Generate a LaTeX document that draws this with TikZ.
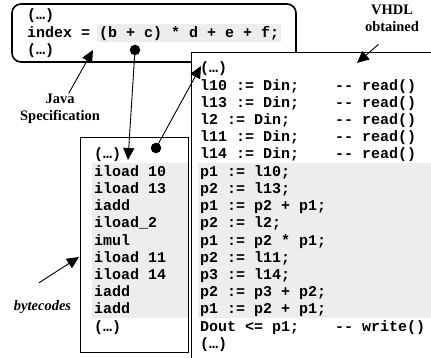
\documentclass[tikz,border=0pt]{standalone}
\usepackage{fontspec}
\setmainfont{Liberation Serif}
\newfontfamily\codefont{Liberation Mono}
\usetikzlibrary{arrows.meta}

\begin{document}
\begin{tikzpicture}[x=1pt,y=-1pt,>={Triangle[length=12pt,width=11pt]},
jbox/.style={rectangle, draw, line width=1.6pt, rounded corners=9pt, minimum width=284pt, minimum height=58pt, inner sep=0pt},
cbox/.style={rectangle, draw, line width=0.9pt, fill=white, inner sep=0pt},
code/.style={anchor=base west, inner sep=0pt, font=\codefont\bfseries\fontsize{15}{17}\selectfont},
lbl/.style={align=center, inner sep=1pt, font=\bfseries\fontsize{14.5}{16.5}\selectfont},
hl/.style={fill=black!7},
dot/.style={circle, fill=black, inner sep=0pt, minimum size=10.5pt},
ptr/.style={->, line width=0.9pt}]

\useasboundingbox (0,0) rectangle (431,358);

\draw (154,33) node[jbox] (JavaBox) {};
\fill[hl] (97,24) rectangle (281,42);
\draw (27,20) node[code] (J0) {(…)};
\draw (27,37.5) node[code] (J1) {index = (b + c) * d + e + f;};
\draw (27,55) node[code] (J2) {(…)};

\draw (134,244.5) node[cbox, minimum width=108pt, minimum height=215pt] (ByteBox) {};
\fill[hl] (92,163.5) rectangle (187.5,318);
\draw (94,159) node[code] (B0) {(…)};
\draw (94,176.2) node[code] (B1) {iload 10};
\draw (94,193.4) node[code] (B2) {iload 13};
\draw (94,210.6) node[code] (B3) {iadd};
\draw (94,227.8) node[code] (B4) {iload\_2};
\draw (94,245) node[code] (B5) {imul};
\draw (94,262.2) node[code] (B6) {iload 11};
\draw (94,279.4) node[code] (B7) {iload 14};
\draw (94,296.6) node[code] (B8) {iadd};
\draw (94,313.8) node[code] (B9) {iadd};
\draw (94,331) node[code] (B10) {(…)};

\draw (313.5,208) node[cbox, minimum width=245pt, minimum height=312pt] (VhdlBox) {};
\fill[hl] (198,163.5) rectangle (440,318);
\draw (200,73) node[code] (V0) {(…)};
\draw (200,90.2) node[code] (V1) {l10 := Din;~~~~-{}- read()};
\draw (200,107.4) node[code] (V2) {l13 := Din;~~~~-{}- read()};
\draw (200,124.6) node[code] (V3) {l2 := Din;~~~~~-{}- read()};
\draw (200,141.8) node[code] (V4) {l11 := Din;~~~~-{}- read()};
\draw (200,159) node[code] (V5) {l14 := Din;~~~~-{}- read()};
\draw (200,176.2) node[code] (V6) {p1 := l10;};
\draw (200,193.4) node[code] (V7) {p2 := l13;};
\draw (200,210.6) node[code] (V8) {p1 := p2 + p1;};
\draw (200,227.8) node[code] (V9) {p2 := l2;};
\draw (200,245) node[code] (V10) {p1 := p2 * p1;};
\draw (200,262.2) node[code] (V11) {p2 := l11;};
\draw (200,279.4) node[code] (V12) {p3 := l14;};
\draw (200,296.6) node[code] (V13) {p2 := p3 + p2;};
\draw (200,313.8) node[code] (V14) {p1 := p2 + p1;};
\draw (200,331) node[code] (V15) {Dout <= p1;~~~~-{}- write()};
\draw (200,348.2) node[code] (V16) {(…)};

\draw (60,109) node[lbl] (JavaLbl) {Java\\Specification};
\draw (392,18.3) node[lbl] (VhdlLbl) {VHDL\\obtained};
\draw (42.5,307.5) node[lbl, font=\bfseries\itshape\fontsize{14.5}{16.5}\selectfont] (ByteLbl) {bytecodes};

\draw (135,50) node[dot] (JDot) {};
\draw (156,148) node[dot] (BDot) {};
\coordinate (javaTip) at (93,50);
\coordinate (byteTip) at (128,160);
\coordinate (vhdlTip) at (201,66);
\coordinate (vhdlLblTip) at (357,63);
\coordinate (byteLblTip) at (79,257);

\draw[ptr] (JavaLbl)--(javaTip);
\draw[ptr] (JDot.center)--(byteTip);
\draw[ptr] (BDot.center)--(vhdlTip);
\draw[ptr, shorten <=18pt] (VhdlLbl.south)--(vhdlLblTip);
\draw[ptr, shorten <=31pt] (ByteLbl.north west)--(byteLblTip);

\end{tikzpicture}
\end{document}
